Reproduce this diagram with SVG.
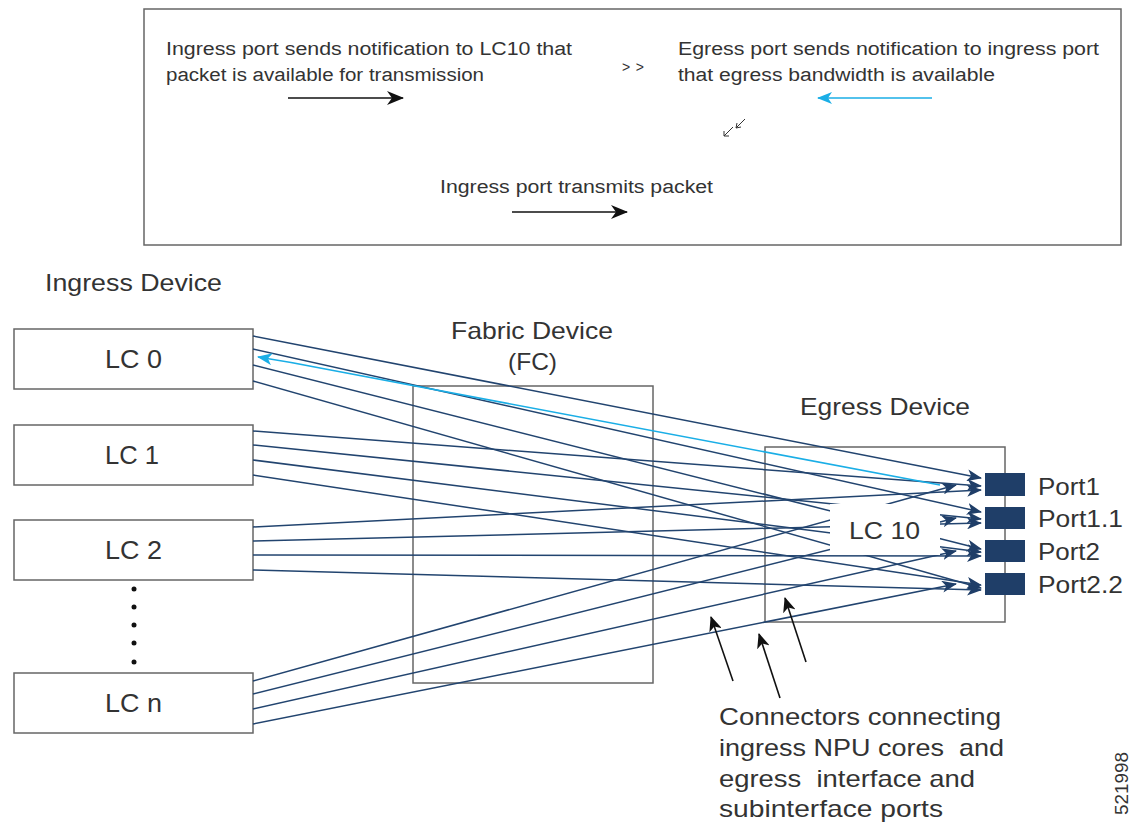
<svg xmlns="http://www.w3.org/2000/svg" width="1141" height="823" viewBox="0 0 1141 823">
<defs>
<style>
.box{fill:#fff;stroke:#666;stroke-width:1.5}
.frame{fill:none;stroke:#666;stroke-width:1.5}
.t{font-family:"Liberation Sans",Arial,sans-serif;fill:#333}
.conn{fill:none;stroke:#22446f;stroke-width:1.5;marker-end:url(#navy)}
.port{fill:#1f3e68}
.blk{fill:none;stroke:#111;stroke-width:1.6}
</style>
<marker id="navy" markerUnits="userSpaceOnUse" markerWidth="16" markerHeight="12" refX="14" refY="6" orient="auto" viewBox="0 0 16 12">
<path d="M0,0 L15,6 L0,12 L4,6 Z" fill="#1f3e68"/>
</marker>
<marker id="cyan" markerUnits="userSpaceOnUse" markerWidth="16" markerHeight="12" refX="14" refY="6" orient="auto" viewBox="0 0 16 12">
<path d="M0,0 L15,6 L0,12 L4,6 Z" fill="#1aaee6"/>
</marker>
<marker id="black" markerUnits="userSpaceOnUse" markerWidth="18" markerHeight="14" refX="16" refY="7" orient="auto" viewBox="0 0 18 14">
<path d="M0,0 L17,7 L0,14 L5,7 Z" fill="#111"/>
</marker>
<marker id="blacksm" markerUnits="userSpaceOnUse" markerWidth="15" markerHeight="13" refX="14" refY="6.5" orient="auto" viewBox="0 0 15 13">
<path d="M0,0 L15,6.5 L0,13 L4,6.5 Z" fill="#111"/>
</marker>
</defs>
<rect width="1141" height="823" fill="#fff"/>

<g id="legend">
<rect class="frame" x="144" y="9" width="977" height="236"/>
<text class="t" x="166" y="55" font-size="18" textLength="406" lengthAdjust="spacingAndGlyphs">Ingress port sends notification to LC10 that</text>
<text class="t" x="166" y="81" font-size="18" textLength="318" lengthAdjust="spacingAndGlyphs">packet is available for transmission</text>
<line class="blk" x1="288" y1="98" x2="403" y2="98" marker-end="url(#black)"/>
<text class="t" x="622" y="72" font-size="14" textLength="22" lengthAdjust="spacing">&gt;&gt;</text>
<text class="t" x="678" y="55" font-size="18" textLength="421" lengthAdjust="spacingAndGlyphs">Egress port sends notification to ingress port</text>
<text class="t" x="678" y="81" font-size="18" textLength="317" lengthAdjust="spacingAndGlyphs">that egress bandwidth is available</text>
<line x1="932" y1="98" x2="818" y2="98" stroke="#1aaee6" stroke-width="1.6" marker-end="url(#cyan)"/>
<path d="M733,127 L724,136 M724,131 L724,136 L729,136 M745,119 L736,128 M737,123 L736,128 L741,127" fill="none" stroke="#333" stroke-width="1"/>
<text class="t" x="440" y="193" font-size="18" textLength="273" lengthAdjust="spacingAndGlyphs">Ingress port transmits packet</text>
<line class="blk" x1="512" y1="212" x2="627" y2="212" marker-end="url(#black)"/>
</g>

<g id="labels">
<text class="t" x="45" y="291" font-size="24" textLength="177" lengthAdjust="spacingAndGlyphs">Ingress Device</text>
<text class="t" x="451" y="339" font-size="24" textLength="162" lengthAdjust="spacingAndGlyphs">Fabric Device</text>
<text class="t" x="508" y="370" font-size="24" textLength="49" lengthAdjust="spacingAndGlyphs">(FC)</text>
<text class="t" x="800" y="415" font-size="24" textLength="170" lengthAdjust="spacingAndGlyphs">Egress Device</text>
</g>

<g id="fabric">
<rect class="frame" x="413" y="386" width="240" height="297"/>
</g>
<g id="egress">
<rect class="frame" x="765" y="447" width="240" height="175"/>
</g>

<g id="lc0"><rect class="box" x="14" y="329" width="239" height="60"/><text class="t" x="105" y="368" font-size="25" textLength="57" lengthAdjust="spacingAndGlyphs">LC 0</text></g>
<g id="lc1"><rect class="box" x="14" y="425" width="239" height="60"/><text class="t" x="105" y="464" font-size="25" textLength="54" lengthAdjust="spacingAndGlyphs">LC 1</text></g>
<g id="lc2"><rect class="box" x="14" y="520" width="239" height="60"/><text class="t" x="105" y="559" font-size="25" textLength="57" lengthAdjust="spacingAndGlyphs">LC 2</text></g>
<g id="lcn"><rect class="box" x="14" y="673" width="239" height="60"/><text class="t" x="105" y="712" font-size="25" textLength="57" lengthAdjust="spacingAndGlyphs">LC n</text></g>
<g id="dots" fill="#111">
<circle cx="134" cy="589" r="2.5"/><circle cx="134" cy="607" r="2.5"/><circle cx="134" cy="625" r="2.5"/><circle cx="134" cy="643" r="2.5"/><circle cx="134" cy="662" r="2.5"/>
</g>

<g id="connectors">
<path class="conn" d="M253,336 L981,478"/>
<path class="conn" d="M253,349 L981,512"/>
<path class="conn" d="M253,365 L981,549"/>
<path class="conn" d="M253,381 L981,588"/>
<path class="conn" d="M253,431 L981,486"/>
<path class="conn" d="M253,445 L981,519"/>
<path class="conn" d="M253,460 L981,552"/>
<path class="conn" d="M253,475 L981,585"/>
<path class="conn" d="M253,527 L981,490"/>
<path class="conn" d="M253,541 L981,523"/>
<path class="conn" d="M253,555 L981,556"/>
<path class="conn" d="M253,570 L981,590"/>
<path class="conn" d="M253,681 L956,485"/>
<path class="conn" d="M253,694 L956,518"/>
<path class="conn" d="M253,709 L956,551"/>
<path class="conn" d="M253,724 L956,584"/>
<path d="M940,485 L320,368 Q290,362 258,357" fill="none" stroke="#1aaee6" stroke-width="1.6" marker-end="url(#cyan)"/>
</g>

<g id="lc10">
<rect x="830" y="504" width="110" height="51" fill="#fff"/>
<text class="t" x="849" y="539" font-size="24" textLength="71" lengthAdjust="spacingAndGlyphs">LC 10</text>
</g>

<g id="port1"><rect class="port" x="985" y="473" width="40" height="23"/><text class="t" x="1038" y="495" font-size="24" textLength="62" lengthAdjust="spacingAndGlyphs">Port1</text></g>
<g id="port1-1"><rect class="port" x="985" y="507" width="40" height="22"/><text class="t" x="1038" y="527" font-size="24" textLength="85" lengthAdjust="spacingAndGlyphs">Port1.1</text></g>
<g id="port2"><rect class="port" x="985" y="540" width="40" height="22"/><text class="t" x="1038" y="560" font-size="24" textLength="62" lengthAdjust="spacingAndGlyphs">Port2</text></g>
<g id="port2-2"><rect class="port" x="985" y="573" width="40" height="22"/><text class="t" x="1038" y="593" font-size="24" textLength="85" lengthAdjust="spacingAndGlyphs">Port2.2</text></g>

<g id="annotation">
<line x1="733" y1="681" x2="711" y2="617" stroke="#111" stroke-width="1.6" marker-end="url(#blacksm)"/>
<line x1="780" y1="698" x2="759" y2="634" stroke="#111" stroke-width="1.6" marker-end="url(#blacksm)"/>
<line x1="806" y1="662" x2="785" y2="598" stroke="#111" stroke-width="1.6" marker-end="url(#blacksm)"/>
<text class="t" x="719" y="725" font-size="24" textLength="282" lengthAdjust="spacingAndGlyphs">Connectors connecting</text>
<text class="t" x="719" y="756" font-size="24" textLength="285" lengthAdjust="spacingAndGlyphs" style="white-space:pre">ingress NPU cores  and</text>
<text class="t" x="719" y="787" font-size="24" textLength="256" lengthAdjust="spacingAndGlyphs" style="white-space:pre">egress  interface and</text>
<text class="t" x="719" y="817" font-size="24" textLength="224" lengthAdjust="spacingAndGlyphs">subinterface ports</text>
<text class="t" x="1128" y="815" font-size="18" textLength="63" lengthAdjust="spacingAndGlyphs" transform="rotate(-90 1128 815)">521998</text>
</g>
</svg>
